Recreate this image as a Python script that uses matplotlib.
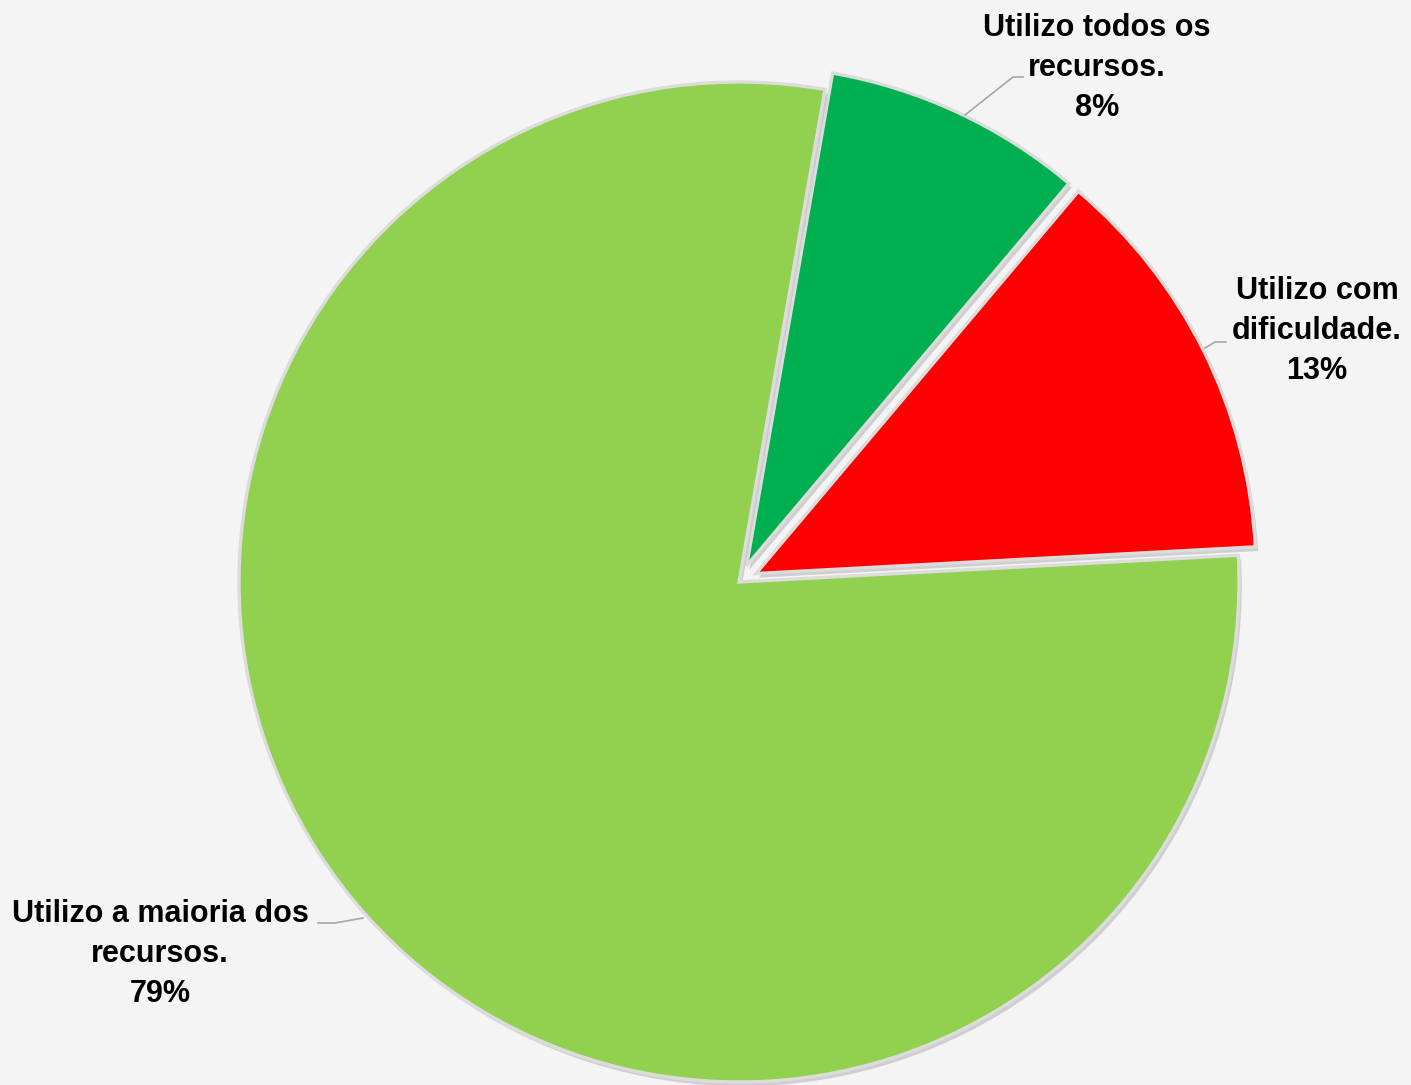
import matplotlib
matplotlib.use("Agg")
import matplotlib.pyplot as plt
import matplotlib.patheffects as pe

labels = ["Utilizo todos os\nrecursos.", "Utilizo com\ndificuldade.", "Utilizo a maioria dos\nrecursos."]
values = [8.4, 13.0, 78.6]
pct_labels = ["8%", "13%", "79%"]
colors = ["#00B050", "#FF0000", "#92D050"]
explode_frac = [0.036, 0.038, 0.0]

W, H = 1411, 1085
bg = "#F4F4F4"
fig = plt.figure(figsize=(W / 100, H / 100), dpi=100, facecolor=bg)
ax = fig.add_axes([0, 0, 1, 1])
ax.set_facecolor(bg)

cx, cy, R = 739, H - 582, 500
wedges, _ = ax.pie(values, colors=colors, explode=[e * R for e in explode_frac],
                   startangle=80.1, counterclock=False, center=(cx, cy), radius=R,
                   wedgeprops=dict(edgecolor="#DCDCDC", linewidth=2.4))
for w in wedges:
    w.set_path_effects([pe.SimplePatchShadow(offset=(2, -3), shadow_rgbFace="#8C8C8C", alpha=0.35),
                        pe.Normal()])

ax.set_xlim(0, W)
ax.set_ylim(0, H)
ax.set_aspect("equal")
ax.axis("off")

font = dict(family=["Liberation Sans", "DejaVu Sans"], fontweight="bold",
            fontsize=22, color="black", ha="center", va="center", linespacing=1.45)

# label anchors (pixels from top)
label_pos = [(1097, 68), (1317, 331), (160, 954)]
leaders = [
    [(965, 115), (1013, 77), (1023, 77)],
    [(1205, 348), (1215, 342), (1226, 342)],
    [(363, 918), (335, 923), (318, 923)],
]
for lab, pct, (lx, ly), ld in zip(labels, pct_labels, label_pos, leaders):
    ax.text(lx, H - ly, lab + "\n" + pct, **font)
    xs = [p[0] for p in ld]
    ys = [H - p[1] for p in ld]
    ax.plot(xs, ys, color="#A6A6A6", lw=1.2)

fig.savefig("out.png", dpi=100, facecolor=bg)
